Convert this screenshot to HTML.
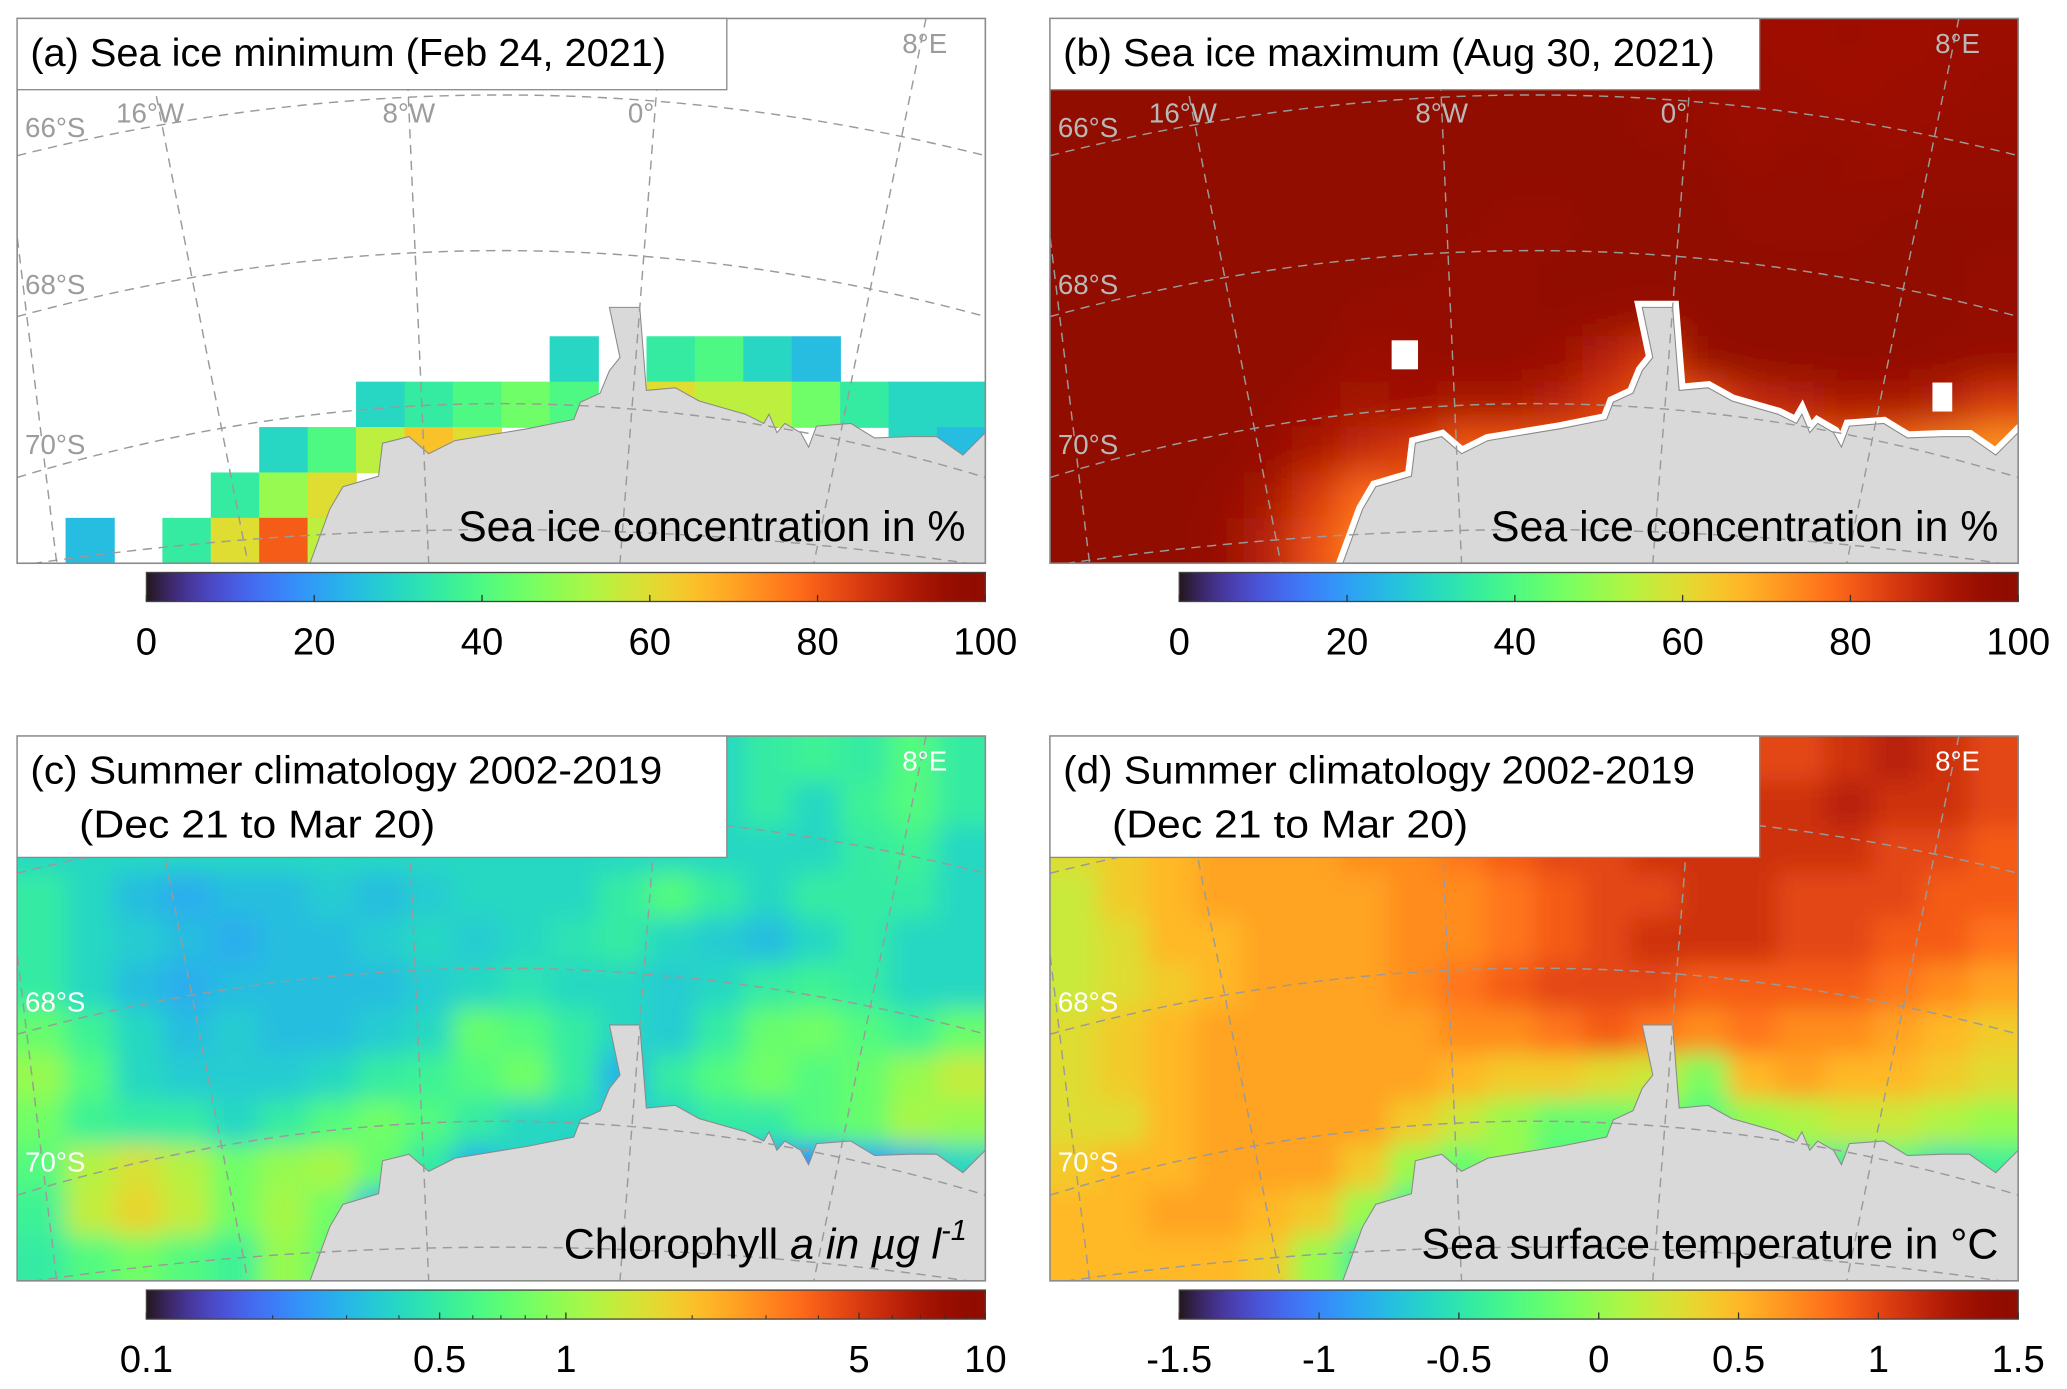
<!DOCTYPE html>
<html><head><meta charset="utf-8"><style>
html,body{margin:0;padding:0;background:#fff;}
svg{display:block;font-family:"Liberation Sans",Arial,sans-serif;}
</style></head><body>
<svg id="fig" xmlns="http://www.w3.org/2000/svg" width="2067" height="1389" viewBox="0 0 1567 1053" preserveAspectRatio="none">
<defs>
<linearGradient id="turboGrad" x1="0" y1="0" x2="1" y2="0"></linearGradient>
<filter id="blurB" filterUnits="userSpaceOnUse" x="700" y="-100" width="950" height="650"><feGaussianBlur stdDeviation="14"/></filter>
<filter id="blurC" filterUnits="userSpaceOnUse" x="-100" y="450" width="950" height="650"><feGaussianBlur stdDeviation="9"/></filter>
<filter id="blurD" filterUnits="userSpaceOnUse" x="700" y="450" width="950" height="650"><feGaussianBlur stdDeviation="9"/></filter>
<clipPath id="clipA"><rect x="13" y="14" width="734" height="413"/></clipPath>
<clipPath id="clipB"><rect x="796" y="14" width="734" height="413"/></clipPath>
<clipPath id="clipC"><rect x="13" y="558" width="734" height="413"/></clipPath>
<clipPath id="clipD"><rect x="796" y="558" width="734" height="413"/></clipPath>
</defs>
</svg>
<script>
// ---- data ----
const iceMinGrid = [
[null,null,null,null,null,null,null,null,null,null,null,null,null,null,null,null,null,null,null,null],
[null,null,null,null,null,null,null,null,null,null,null,null,null,null,null,null,null,null,null,null],
[null,null,null,null,null,null,null,null,null,null,null,null,null,null,null,null,null,null,null,null],
[null,null,null,null,null,null,null,null,null,null,null,null,null,null,null,null,null,null,null,null],
[null,null,null,null,null,null,null,null,null,null,null,null,null,null,null,null,null,null,null,null],
[null,null,null,null,null,null,null,null,null,null,null,null,null,null,null,null,null,null,null,null],
[null,null,null,null,null,null,null,null,null,null,null,null,null,null,null,null,null,null,null,null],
[null,null,null,null,null,null,null,null,null,null,null,30,null,35,40,30,25,null,null,null],
[null,null,null,null,null,null,null,30,35,40,45,40,null,60,55,55,45,35,30,30],
[null,null,null,null,null,30,40,55,65,60,null,null,null,null,null,null,null,null,30,25],
[null,null,null,null,35,50,60,null,null,null,null,null,null,null,null,null,null,null,null,null],
[null,25,null,35,60,80,55,null,null,null,null,null,null,null,null,null,null,null,null,null]
];
const iceMaxGrid = [
[100,100,100,100,100,100,100,100,100,100,100,97,96,95,95,94,95,94,95,95],
[100,100,100,100,100,100,100,100,100,100,100,99,97,96,95,95,94,95,95,96],
[100,100,100,100,100,100,100,100,100,99,99,98,97,96,95,96,96,95,96,96],
[100,100,100,100,100,100,100,100,99,98,98,99,100,98,96,97,96,96,97,97],
[100,100,100,100,100,100,100,99,98,97,97,99,100,99,97,97,97,98,98,98],
[100,100,100,100,100,100,99,98,97,97,98,100,100,100,99,98,98,99,98,97],
[100,100,100,100,100,99,97,96,97,97,98,97,96,99,99,100,99,99,98,97],
[100,100,100,100,100,98,95,96,97,97,95,90,85,96,98,99,99,98,97,96],
[100,100,100,100,98,95,93,94,92,92,90,85,80,82,88,90,92,92,90,85],
[100,100,100,99,96,92,88,85,80,80,80,80,80,80,80,80,80,78,75,72],
[100,100,100,97,93,85,78,80,80,80,80,80,80,80,80,80,80,80,80,80],
[100,100,100,96,90,82,75,70,80,80,80,80,80,80,80,80,80,80,80,80]
];
const chlGrid = [
[0.4,0.4,0.4,0.4,0.4,0.4,0.4,0.4,0.4,0.4,0.4,0.4,0.4,0.4,0.4,0.5,0.55,0.5,0.65,0.5],
[0.4,0.4,0.4,0.4,0.4,0.4,0.4,0.4,0.4,0.4,0.4,0.4,0.4,0.4,0.4,0.5,0.4,0.55,0.65,0.5],
[0.4,0.4,0.4,0.4,0.4,0.4,0.4,0.4,0.4,0.4,0.4,0.4,0.4,0.4,0.4,0.4,0.4,0.5,0.55,0.4],
[0.5,0.4,0.32,0.28,0.32,0.32,0.36,0.32,0.36,0.4,0.4,0.4,0.5,0.65,0.5,0.4,0.5,0.5,0.5,0.4],
[0.5,0.4,0.36,0.32,0.28,0.32,0.32,0.36,0.4,0.36,0.4,0.45,0.5,0.4,0.36,0.32,0.4,0.5,0.4,0.4],
[0.5,0.4,0.32,0.28,0.32,0.32,0.32,0.32,0.36,0.4,0.45,0.4,0.4,0.36,0.4,0.5,0.55,0.5,0.4,0.4],
[0.75,0.55,0.4,0.32,0.36,0.32,0.32,0.36,0.4,0.75,0.65,0.5,0.4,0.36,0.5,0.75,0.8,0.65,0.55,0.75],
[1.0,0.65,0.4,0.36,0.36,0.36,0.4,0.5,0.55,0.65,0.8,0.5,0.3,0.5,0.65,0.8,0.65,0.75,1.0,1.3],
[0.8,0.55,0.5,0.5,0.4,0.5,0.65,0.8,0.65,0.5,0.4,0.4,0.36,0.4,0.5,0.5,0.65,0.75,1.1,1.0],
[0.65,1.2,1.5,1.2,0.8,1.0,1.1,0.75,0.5,0.3,0.4,0.36,0.3,0.25,0.3,0.25,0.22,0.25,0.3,0.4],
[0.55,1.3,1.7,1.3,0.8,1.1,0.8,0.3,0.4,0.4,0.4,0.4,0.4,0.4,0.4,0.4,0.4,0.4,0.4,0.4],
[0.5,0.65,0.8,0.65,0.55,1.0,0.75,0.4,0.4,0.4,0.4,0.4,0.4,0.4,0.4,0.4,0.4,0.4,0.4,0.4]
];
const sstGrid = [
[0.6,0.6,0.6,0.6,0.6,0.6,0.7,0.7,0.8,0.9,1.0,1.0,1.0,1.0,1.0,1.0,1.1,1.2,1.1,1.0],
[0.4,0.5,0.6,0.6,0.6,0.6,0.7,0.7,0.8,0.9,1.0,1.0,1.0,1.0,1.1,1.1,1.2,1.1,1.1,1.0],
[0.3,0.4,0.5,0.6,0.6,0.6,0.7,0.7,0.8,0.9,1.0,1.0,1.1,1.1,1.1,1.1,1.1,1.0,1.0,0.9],
[0.2,0.4,0.5,0.6,0.6,0.6,0.6,0.7,0.7,0.8,0.9,1.0,1.0,1.1,1.1,1.0,1.0,1.0,0.9,0.9],
[0.2,0.3,0.5,0.5,0.6,0.6,0.6,0.7,0.7,0.8,0.9,1.0,1.1,1.1,1.1,1.0,1.0,0.9,0.9,0.8],
[0.2,0.3,0.4,0.5,0.6,0.6,0.6,0.7,0.8,0.9,1.0,1.0,1.0,0.9,0.9,0.9,0.9,0.8,0.7,0.6],
[0.3,0.4,0.5,0.6,0.6,0.6,0.6,0.6,0.7,0.7,0.8,0.9,0.8,0.7,0.8,0.7,0.7,0.6,0.5,0.4],
[0.3,0.4,0.5,0.6,0.6,0.6,0.6,0.6,0.5,0.4,0.4,0.3,0.2,-0.1,0.5,0.6,0.5,0.5,0.4,0.3],
[0.3,0.3,0.5,0.6,0.6,0.6,0.6,0.4,0.2,0.0,-0.2,-0.2,-0.1,-0.3,0.0,0.1,0.2,0.2,0.1,0.0],
[0.4,0.5,0.5,0.6,0.6,0.6,0.4,0.0,-0.2,0.0,-0.3,-0.3,-0.3,-0.2,-0.3,-0.3,-0.4,-0.3,-0.5,-0.4],
[0.5,0.5,0.6,0.6,0.5,0.4,0.0,-0.4,-0.3,-0.3,-0.3,-0.3,-0.3,-0.3,-0.3,-0.3,-0.3,-0.3,-0.3,-0.3],
[0.5,0.5,0.5,0.5,0.4,0.0,-0.4,-0.3,-0.3,-0.3,-0.3,-0.3,-0.3,-0.3,-0.3,-0.3,-0.3,-0.3,-0.3,-0.3]
];
const iceTicks = [0,20,40,60,80,100];
const chlTicks = [0.1,0.5,1,5,10];
const chlTickLabels = ["0.1","0.5","1","5","10"];
const chlMinorTicks = [0.2,0.3,0.4,0.6,0.7,0.8,0.9,2,3,4,6,7,8,9];
const sstTicks = [-1.5,-1,-0.5,0,0.5,1,1.5];
const sstTickLabels = ["-1.5","-1","-0.5","0","0.5","1","1.5"];

// ---- helpers ----
const NS = "http://www.w3.org/2000/svg";
const svg = document.getElementById('fig');
const W = 734, H = 413;
function turbo(t){
  t = Math.max(0, Math.min(1, t));
  const r = 0.13572138 + t*(4.61539260 + t*(-42.66032258 + t*(132.13108234 + t*(-152.94239396 + t*59.28637943))));
  const g = 0.09140261 + t*(2.19418839 + t*(4.84296658 + t*(-14.18503333 + t*(4.27729857 + t*2.82956604))));
  const b = 0.10667330 + t*(12.64194608 + t*(-60.58204836 + t*(110.36276771 + t*(-89.90310912 + t*27.34824973))));
  const c = v => Math.round(255*Math.max(0, Math.min(1, v)));
  return `rgb(${c(r)},${c(g)},${c(b)})`;
}
function el(tag, attrs, parent){
  const e = document.createElementNS(NS, tag);
  for (const k in attrs) e.setAttribute(k, attrs[k]);
  (parent || svg).appendChild(e);
  return e;
}
const grad = document.getElementById('turboGrad');
for (let i = 0; i <= 40; i++){
  const s = document.createElementNS(NS, 'stop');
  s.setAttribute('offset', (i/40).toFixed(3));
  s.setAttribute('stop-color', turbo(i/40));
  grad.appendChild(s);
}
const normIce = v => v/100;
const normChl = v => (Math.log10(v)+1)/2;
const normSst = v => (v+1.5)/3;

const coast = [[222,413],[237,372],[247,355],[274,347],[277,322],[297,317],[312,330],[332,320],[387,311],[422,304],[427,291],[442,284],[449,267],[457,257],[449,219],[472,219],[477,282],[499,280],[517,290],[552,300],[566,307],[570,300],[576,314],[582,307],[594,314],[600,325],[606,309],[632,307],[650,318],[677,317],[697,317],[717,331],[734,314],[734,413]];

function drawPanel(id, ox, oy, grid, norm, blurId, labelColor, landStroke, landStrokeW){
  const g = el('g', {'clip-path': `url(#clip${id})`});
  
  
  el('rect', {x: ox, y: oy, width: W, height: H, fill: '#fff'}, g);
  const hm = el('g', blurId ? {filter: `url(#${blurId})`} : {}, g);
  
  
  const nR = grid.length, nC = grid[0].length, cw = W/nC, ch = H/nR;
  const xs = c => ox + c*cw, ys = r => oy + r*ch;
  const pad = blurId ? 2 : 0;
  for (let r = -pad; r < nR+pad; r++) for (let c = -pad; c < nC+pad; c++){
    const rr = Math.max(0, Math.min(nR-1, r)), cc = Math.max(0, Math.min(nC-1, c));
    const v = grid[rr][cc];
    if (v === null) continue;
    const cell = el('rect', {x: xs(c).toFixed(2), y: ys(r).toFixed(2), width: (cw+0.6).toFixed(2), height: (ch+0.6).toFixed(2), fill: turbo(norm(v))}, hm);
    
    
  }
  const d = 'M' + coast.map(p => `${ox+p[0]},${oy+p[1]}`).join(' L') + ' Z';
  const land = el('path', {d: d, fill: '#d9d9d9', stroke: landStroke, 'stroke-width': landStrokeW, 'stroke-linejoin': 'miter'}, g);
  
  
  if (landStrokeW > 2){
    el('path', {d: d, fill: '#d9d9d9', stroke: '#888', 'stroke-width': 0.8}, g);
  }
  const gl = el('g', {fill: 'none', stroke: '#9a9a9a', 'stroke-width': 1.1, 'stroke-dasharray': '7,5'}, g);
  
  
  [[104,12],[226,126],[348,236],[415,360]].forEach(a => {
    el('path', {d: `M${ox},${oy+a[0]} Q${ox+367},${oy+a[1]} ${ox+W},${oy+a[0]}`}, gl);
  });
  [[94,0,175,H],[294,0,312,H],[489,0,457,H],[689,0,604,H],[-20,0,30,H]].forEach(m => {
    el('line', {x1: ox+m[0], y1: oy+m[1], x2: ox+m[2], y2: oy+m[3]}, gl);
  });
  const lab = el('g', {fill: labelColor, 'font-size': 21}, g);
  
  
  [['66°S',6,90],['68°S',6,209],['70°S',6,330],['16°W',75,79],['8°W',277,79],['0°',463,79],['8°E',671,26]].forEach(t => {
    const tx = el('text', {x: ox+t[1], y: oy+t[2]}, lab);
    tx.textContent = t[0];
  });
  return g;
}

drawPanel('A', 13, 14, iceMinGrid, normIce, null, '#9c9c9c', '#8a8a8a', 0.8);
const gB = drawPanel('B', 796, 14, iceMaxGrid, normIce, 'blurB', '#b8b8b8', '#ffffff', 10);
[[259,244,20,22],[669,276,15,22]].forEach(s => {
  const m = el('rect', {x: 796+s[0], y: 14+s[1], width: s[2], height: s[3], fill: '#fff'}, gB);
  
  
});
drawPanel('C', 13, 558, chlGrid, normChl, 'blurC', '#ffffff', '#8a8a8a', 0.8);
drawPanel('D', 796, 558, sstGrid, normSst, 'blurD', '#ffffff', '#8a8a8a', 0.8);

function titleBox(ox, oy, h, lines, name){
  const g = el('g', {});
  
  
  el('rect', {x: ox, y: oy, width: 538, height: h, fill: '#fff', stroke: '#8a8a8a', 'stroke-width': 1}, g);
  lines.forEach((l, i) => {
    const t = el('text', {x: ox + l[1], y: oy + 36 + i*41, 'font-size': 29.5, fill: '#000', textLength: l[2], lengthAdjust: 'spacingAndGlyphs'}, g);
    t.textContent = l[0];
  });
}
[[13,14],[796,14],[13,558],[796,558]].forEach((p, i) => {
  const b = el('rect', {x: p[0], y: p[1], width: W, height: H, fill: 'none', stroke: '#8a8a8a', 'stroke-width': 1.2});
  
  
});
titleBox(13, 14, 54, [['(a) Sea ice minimum (Feb 24, 2021)', 10, 482]], 'title-a');
titleBox(796, 14, 54, [['(b) Sea ice maximum (Aug 30, 2021)', 10, 494]], 'title-b');
titleBox(13, 558, 92, [['(c) Summer climatology 2002-2019', 10, 479], ['(Dec 21 to Mar 20)', 47, 270]], 'title-c');
titleBox(796, 558, 92, [['(d) Summer climatology 2002-2019', 10, 479], ['(Dec 21 to Mar 20)', 47, 270]], 'title-d');

function annot(x, y, html, name){
  const t = el('text', {x: x, y: y, 'font-size': 32.5, 'text-anchor': 'end', fill: '#000'});
  
  
  t.innerHTML = html;
}
annot(732, 410, 'Sea ice concentration in %', 'variable-label-a');
annot(1515, 410, 'Sea ice concentration in %', 'variable-label-b');
annot(733, 954, 'Chlorophyll <tspan font-style="italic">a in µg l</tspan><tspan font-style="italic" font-size="22" dy="-14">-1</tspan>', 'variable-label-c');
annot(1515, 954, 'Sea surface temperature in °C', 'variable-label-d');

function colorbar(x0, y0, ticks, labels, norm, minor, name){
  const w = 636, h = 22;
  const g = el('g', {});
  
  
  el('rect', {x: x0, y: y0, width: w, height: h, fill: 'url(#turboGrad)', stroke: '#444', 'stroke-width': 1}, g);
  const xs = v => x0 + norm(v)*w;
  ticks.forEach((v, i) => {
    el('line', {x1: xs(v), y1: y0+h, x2: xs(v), y2: y0+h-5, stroke: '#333', 'stroke-width': 1}, g);
    const t = el('text', {x: xs(v), y: y0+62, 'font-size': 29, 'text-anchor': 'middle', fill: '#000'}, g);
    
    
    t.textContent = labels[i];
  });
  (minor || []).forEach(v => {
    el('line', {x1: xs(v), y1: y0+h, x2: xs(v), y2: y0+h-3, stroke: '#333', 'stroke-width': 0.8}, g);
  });
}
const iceLabels = iceTicks.map(String);
colorbar(111, 434, iceTicks, iceLabels, normIce, null, 'colorbar-a');
colorbar(894, 434, iceTicks, iceLabels, normIce, null, 'colorbar-b');
colorbar(111, 978, chlTicks, chlTickLabels, normChl, chlMinorTicks, 'colorbar-c');
colorbar(894, 978, sstTicks, sstTickLabels, normSst, null, 'colorbar-d');
</script>
</body></html>
